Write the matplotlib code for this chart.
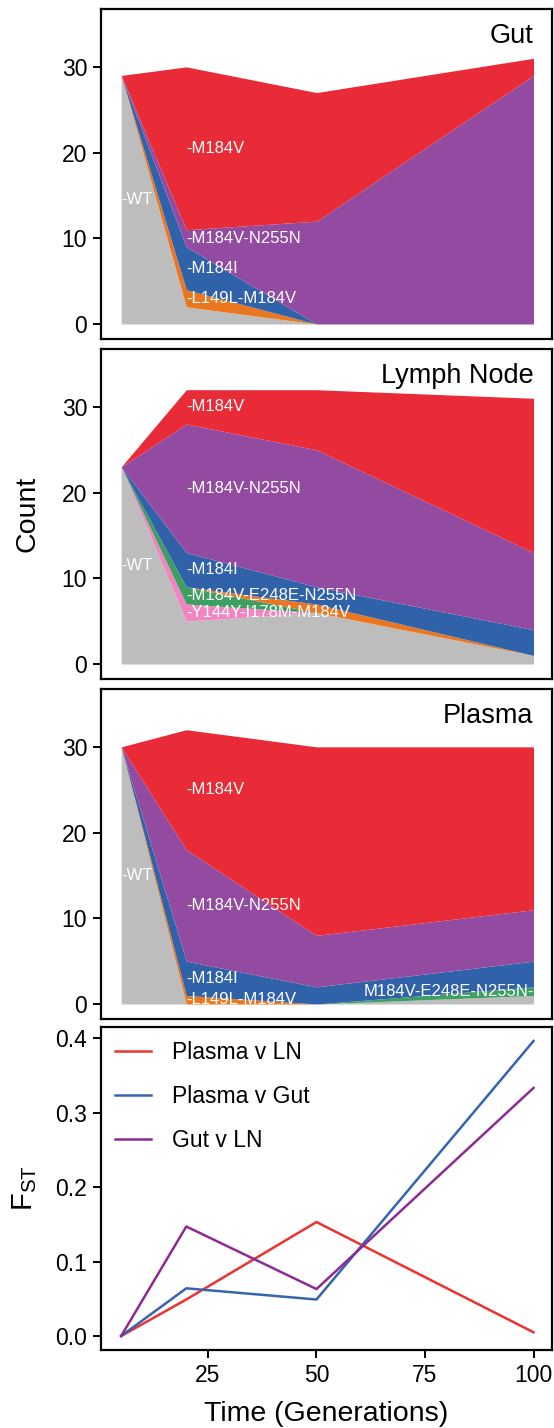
import numpy as np
import matplotlib
matplotlib.use("Agg")
import matplotlib.pyplot as plt

plt.rcParams['font.family'] = ['Liberation Sans', 'DejaVu Sans']
plt.rcParams['mathtext.fontset'] = 'custom'
plt.rcParams['mathtext.rm'] = 'Liberation Sans'

# time points (generations)
times = [5, 20, 50, 100]

# genotypes, bottom to top of the stack
genotypes = ["WT", "Y144Y-I178M-M184V", "M184V-E248E-N255N", "L149L-M184V",
             "M184I", "M184V-N255N", "M184V"]
geno_colors = ["#BDBDBD", "#F185C1", "#3E9F62", "#EA7720",
               "#3062AA", "#924BA1", "#E82B36"]

# counts per genotype (rows in genotype order), per compartment
gut_counts = [
    [29, 2, 0, 0],
    [0, 0, 0, 0],
    [0, 0, 0, 0],
    [0, 2, 0, 0],
    [0, 5, 0, 0],
    [0, 2, 12, 29],
    [0, 19, 15, 2],
]
ln_counts = [
    [23, 5, 6, 1],
    [0, 2, 0, 0],
    [0, 2, 0, 0],
    [0, 0, 1, 0],
    [0, 4, 2, 3],
    [0, 15, 16, 9],
    [0, 4, 7, 18],
]
plasma_counts = [
    [30, 0, 0, 1],
    [0, 0, 0, 0],
    [0, 0, 0, 1],
    [0, 1, 0, 0],
    [0, 4, 2, 3],
    [0, 13, 6, 6],
    [0, 14, 22, 19],
]

# which genotypes get a label, and at which time index
gut_labels = [("WT", 0), ("M184V", 1), ("M184V-N255N", 1), ("M184I", 1), ("L149L-M184V", 1)]
ln_labels = [("WT", 0), ("M184V", 1), ("M184V-N255N", 1), ("M184I", 1),
             ("M184V-E248E-N255N", 1), ("Y144Y-I178M-M184V", 1)]
plasma_labels = [("WT", 0), ("M184V", 1), ("M184V-N255N", 1), ("M184I", 1),
                 ("L149L-M184V", 1), ("M184V-E248E-N255N", 3)]

panel_names = ["Gut", "Lymph Node", "Plasma"]

# F_ST between compartments
fst_names = ["Plasma v LN", "Plasma v Gut", "Gut v LN"]
fst_colors = ["#EE3131", "#3565B0", "#8E2A93"]
fst_plasma_ln = [0.0, 0.049, 0.153, 0.005]
fst_plasma_gut = [0.0, 0.064, 0.049, 0.396]
fst_gut_ln = [0.0, 0.147, 0.063, 0.333]

W, H = 554, 1428
fig = plt.figure(figsize=(W / 100, H / 100), dpi=100)


def add_ax(top, bottom, left=101, right=552):
    return fig.add_axes([left / W, 1 - bottom / H, (right - left) / W, (bottom - top) / H])


def style_frame(ax):
    for s in ax.spines.values():
        s.set_linewidth(1.6)
        s.set_color('black')
    ax.tick_params(axis='both', length=5.5, width=1.4, labelsize=16.5, pad=4.5, color='black')


def stack_panel(ax, counts, labels, name):
    counts = np.array(counts, dtype=float)
    upper = np.cumsum(counts, axis=0)
    lower = upper - counts
    for i, g in enumerate(genotypes):
        if counts[i].sum() == 0:
            continue
        ax.fill_between(times, lower[i], upper[i], color=geno_colors[i], linewidth=0)
    for g, ti in labels:
        i = genotypes.index(g)
        ymid = (lower[i][ti] + upper[i][ti]) / 2
        if ti == len(times) - 1:
            ax.text(times[ti], ymid, g + "-", ha='right', va='center',
                    color='white', fontsize=12)
        else:
            ax.text(times[ti], ymid, "-" + g, ha='left', va='center',
                    color='white', fontsize=12)
    ax.text(100, 32.8, name, ha='right', va='baseline', fontsize=19.5)
    ax.set_xlim(0.35, 104.26)
    ax.set_ylim(-1.75, 36.75)
    ax.set_yticks([0, 10, 20, 30])
    style_frame(ax)
    ax.tick_params(axis='x', bottom=False, labelbottom=False)


panel_bounds = [(9, 339), (349, 679), (689, 1019)]
all_counts = [gut_counts, ln_counts, plasma_counts]
all_labels = [gut_labels, ln_labels, plasma_labels]
for (top, bot), c, lab, name in zip(panel_bounds, all_counts, all_labels, panel_names):
    ax = add_ax(top, bot)
    stack_panel(ax, c, lab, name)

fig.text(28 / W, 1 - 514 / H, "Count", rotation=90, ha='center', va='center', fontsize=20.5)

# F_ST panel
ax4 = add_ax(1027, 1350)
for vals, nm, col in zip([fst_plasma_ln, fst_plasma_gut, fst_gut_ln], fst_names, fst_colors):
    ax4.plot(times, vals, color=col, lw=1.8, label=nm)
ax4.set_xlim(0.35, 104.26)
ax4.set_ylim(-0.0188, 0.4148)
ax4.set_xticks([25, 50, 75, 100])
ax4.set_yticks([0.0, 0.1, 0.2, 0.3, 0.4])
ax4.set_yticklabels(["0.0", "0.1", "0.2", "0.3", "0.4"])
style_frame(ax4)
ax4.legend(loc='upper left', frameon=False, fontsize=16.5, handlelength=1.6,
           handletextpad=0.9, labelspacing=0.93, borderaxespad=0.2)
fig.text(25 / W, 1 - 1188 / H, r"$\mathrm{F_{ST}}$", rotation=90, ha='center', va='center', fontsize=21)
fig.text(326 / W, 1 - 1421 / H, "Time (Generations)", ha='center', va='baseline', fontsize=20.5)

fig.savefig("out.png", dpi=100)
